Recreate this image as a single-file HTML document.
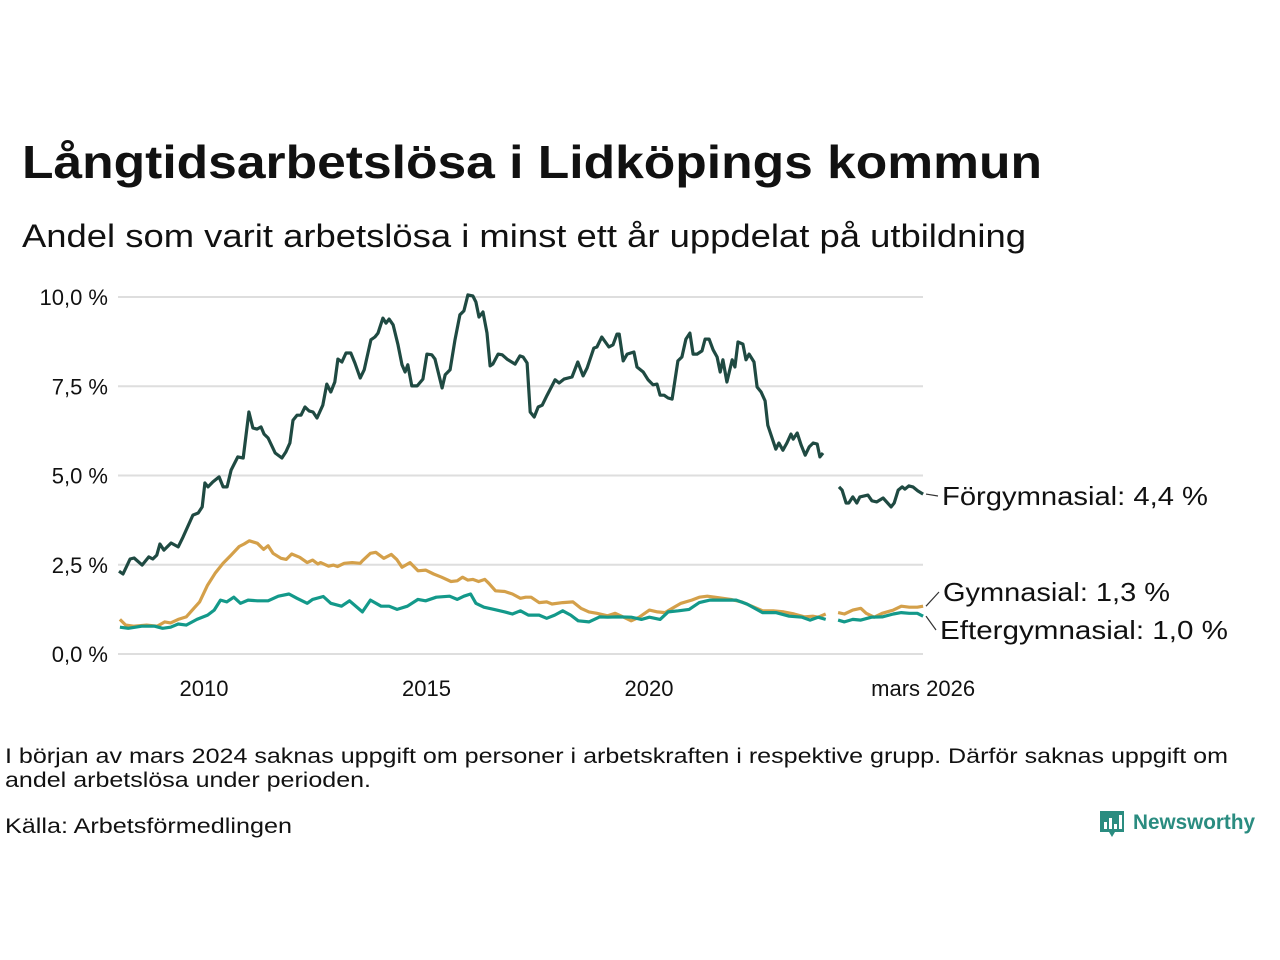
<!DOCTYPE html>
<html><head><meta charset="utf-8"><style>
html,body{margin:0;padding:0;background:#fff;}
svg{display:block;font-family:"Liberation Sans",sans-serif;}
</style></head><body>
<svg id="chart" width="1280" height="960" viewBox="0 0 1280 960">
<text x="22" y="178" font-size="46" font-weight="bold" fill="#111" textLength="1020" lengthAdjust="spacingAndGlyphs">Långtidsarbetslösa i Lidköpings kommun</text>
<text x="22" y="247" font-size="32" fill="#111" textLength="1004" lengthAdjust="spacingAndGlyphs">Andel som varit arbetslösa i minst ett år uppdelat på utbildning</text>
<g id="grid"></g>
<g id="yticks"></g>
<g id="xticks"></g>
<g id="series"></g>
<g id="labels"></g>
<text x="5" y="763" font-size="21" fill="#111" textLength="1223" lengthAdjust="spacingAndGlyphs">I början av mars 2024 saknas uppgift om personer i arbetskraften i respektive grupp. Därför saknas uppgift om</text>
<text x="5" y="787" font-size="21" fill="#111" textLength="366" lengthAdjust="spacingAndGlyphs">andel arbetslösa under perioden.</text>
<text x="5" y="833" font-size="21" fill="#111" textLength="287" lengthAdjust="spacingAndGlyphs">Källa: Arbetsförmedlingen</text>
<g>
<path d="M1100 811 h24 v21 h-9 l-3 5 l-3 -5 h-9 z" fill="#2a8c80"/>
<rect x="1104" y="822" width="3" height="7" fill="#fff"/><rect x="1109" y="818" width="3" height="11" fill="#fff"/><rect x="1114" y="824" width="3" height="5" fill="#fff"/><rect x="1119" y="815" width="3" height="14" fill="#fff"/>
<text x="1133" y="829" font-size="21" font-weight="bold" fill="#2a8c80" textLength="122" lengthAdjust="spacingAndGlyphs">Newsworthy</text>
</g>
</svg>
<script>
const yTicks=[0,2.5,5,7.5,10];
const yTickLabels=["0,0 %","2,5 %","5,0 %","7,5 %","10,0 %"];
const xTicks=[2010,2015,2020,2026.16];
const xTickLabels=["2010","2015","2020","mars 2026"];
const seriesNames=["Förgymnasial","Gymnasial","Eftergymnasial"];
const lastLabels=["Förgymnasial: 4,4 %","Gymnasial: 1,3 %","Eftergymnasial: 1,0 %"];
const darkDates=[2008.09,2008.18,2008.34,2008.43,2008.61,2008.76,2008.85,2008.94,2009.01,2009.10,2009.26,2009.42,2009.53,2009.75,2009.87,2009.96,2010.02,2010.09,2010.20,2010.34,2010.43,2010.52,2010.61,2010.76,2010.88,2011.01,2011.10,2011.19,2011.28,2011.35,2011.44,2011.60,2011.75,2011.84,2011.93,2012.00,2012.09,2012.18,2012.27,2012.36,2012.45,2012.54,2012.67,2012.76,2012.85,2012.94,2013.01,2013.10,2013.19,2013.30,2013.39,2013.51,2013.60,2013.75,2013.84,2013.91,2014.02,2014.09,2014.16,2014.25,2014.36,2014.45,2014.52,2014.58,2014.67,2014.79,2014.92,2015.01,2015.12,2015.19,2015.35,2015.42,2015.53,2015.64,2015.75,2015.84,2015.93,2016.04,2016.11,2016.18,2016.27,2016.36,2016.43,2016.49,2016.61,2016.70,2016.81,2016.99,2017.10,2017.17,2017.26,2017.33,2017.42,2017.51,2017.60,2017.71,2017.89,2017.98,2018.09,2018.27,2018.40,2018.52,2018.61,2018.76,2018.83,2018.94,2019.10,2019.19,2019.28,2019.33,2019.42,2019.51,2019.66,2019.73,2019.87,2019.98,2020.09,2020.18,2020.25,2020.34,2020.43,2020.52,2020.65,2020.74,2020.83,2020.92,2020.99,2021.08,2021.19,2021.26,2021.35,2021.44,2021.53,2021.60,2021.66,2021.75,2021.87,2021.93,2022.00,2022.11,2022.18,2022.25,2022.36,2022.43,2022.52,2022.61,2022.67,2022.85,2022.92,2023.01,2023.10,2023.19,2023.24,2023.33,2023.42,2023.51,2023.60,2023.69,2023.78,2023.84,2023.91,2024.0,2024.27,2024.34,2024.43,2024.49,2024.58,2024.67,2024.74,2024.92,2025.01,2025.12,2025.26,2025.44,2025.51,2025.60,2025.69,2025.75,2025.84,2025.93,2026.04,2026.16];
const darkValues=[2.32,2.24,2.66,2.69,2.49,2.72,2.66,2.77,3.08,2.91,3.11,3.00,3.28,3.89,3.95,4.12,4.79,4.68,4.82,4.96,4.68,4.68,5.15,5.52,5.49,6.78,6.33,6.30,6.36,6.16,6.05,5.63,5.49,5.66,5.91,6.55,6.69,6.69,6.92,6.81,6.78,6.61,6.97,7.56,7.34,7.62,8.26,8.18,8.43,8.43,8.15,7.73,7.96,8.80,8.88,8.99,9.41,9.27,9.38,9.22,8.66,8.10,7.90,8.10,7.51,7.51,7.70,8.40,8.38,8.26,7.45,7.82,7.96,8.80,9.50,9.61,10.06,10.03,9.86,9.44,9.58,8.99,8.07,8.12,8.40,8.38,8.26,8.12,8.35,8.32,8.15,6.78,6.64,6.92,6.97,7.25,7.68,7.59,7.70,7.76,8.18,7.79,8.01,8.57,8.60,8.88,8.60,8.66,8.96,8.96,8.21,8.40,8.46,8.04,7.90,7.68,7.54,7.56,7.25,7.25,7.17,7.14,8.21,8.32,8.82,8.99,8.40,8.40,8.49,8.82,8.82,8.52,8.32,7.90,8.24,7.62,8.24,8.04,8.74,8.68,8.24,8.40,8.18,7.48,7.34,7.09,6.41,5.74,5.91,5.71,5.91,6.16,6.02,6.19,5.85,5.57,5.80,5.91,5.88,5.52,5.63,null,4.68,4.59,4.23,4.23,4.40,4.23,4.40,4.45,4.29,4.26,4.37,4.12,4.23,4.59,4.68,4.62,4.71,4.68,4.57,4.48];
const goldDates=[2008.11,2008.24,2008.42,2008.71,2008.95,2009.12,2009.25,2009.42,2009.60,2009.78,2009.90,2010.08,2010.25,2010.43,2010.61,2010.79,2010.90,2011.02,2011.20,2011.34,2011.44,2011.55,2011.73,2011.85,2011.97,2012.15,2012.32,2012.44,2012.56,2012.62,2012.80,2012.91,2013.00,2013.15,2013.33,2013.51,2013.56,2013.74,2013.86,2014.04,2014.21,2014.33,2014.45,2014.63,2014.81,2014.98,2015.16,2015.34,2015.55,2015.69,2015.81,2015.93,2016.04,2016.17,2016.31,2016.40,2016.55,2016.76,2016.93,2017.11,2017.23,2017.35,2017.53,2017.70,2017.82,2018.06,2018.29,2018.47,2018.65,2018.83,2019.07,2019.24,2019.42,2019.60,2019.78,2020.01,2020.19,2020.36,2020.48,2020.72,2020.96,2021.13,2021.31,2021.48,2021.66,2021.84,2022.08,2022.31,2022.55,2022.79,2023.03,2023.26,2023.50,2023.68,2023.80,2023.97,2024.1,2024.25,2024.39,2024.58,2024.76,2024.88,2025.06,2025.24,2025.49,2025.67,2025.85,2026.03,2026.16];
const goldValues=[0.97,0.81,0.78,0.81,0.78,0.90,0.87,0.97,1.04,1.29,1.46,1.93,2.26,2.54,2.77,3.01,3.08,3.17,3.10,2.93,3.03,2.82,2.68,2.65,2.80,2.71,2.56,2.63,2.52,2.56,2.46,2.49,2.45,2.54,2.56,2.54,2.61,2.82,2.85,2.68,2.79,2.65,2.43,2.56,2.33,2.35,2.24,2.15,2.03,2.05,2.15,2.07,2.09,2.03,2.09,1.98,1.77,1.75,1.68,1.56,1.59,1.59,1.44,1.46,1.40,1.44,1.46,1.28,1.18,1.14,1.07,1.14,1.04,0.93,1.03,1.23,1.18,1.16,1.25,1.42,1.51,1.59,1.62,1.59,1.56,1.53,1.46,1.34,1.21,1.21,1.18,1.12,1.04,1.06,1.03,1.12,null,1.16,1.12,1.23,1.28,1.14,1.03,1.14,1.23,1.34,1.31,1.31,1.34];
const tealDates=[2008.11,2008.30,2008.60,2008.89,2009.07,2009.25,2009.42,2009.60,2009.84,2010.08,2010.23,2010.37,2010.51,2010.67,2010.82,2010.99,2011.20,2011.44,2011.67,2011.91,2012.09,2012.32,2012.44,2012.68,2012.85,2013.09,2013.27,2013.56,2013.74,2013.98,2014.16,2014.34,2014.57,2014.81,2014.98,2015.22,2015.52,2015.69,2015.84,2015.99,2016.11,2016.29,2016.52,2016.76,2016.93,2017.11,2017.29,2017.53,2017.70,2017.88,2018.06,2018.24,2018.41,2018.65,2018.89,2019.07,2019.30,2019.60,2019.83,2020.01,2020.25,2020.43,2020.66,2020.90,2021.13,2021.37,2021.66,2021.96,2022.20,2022.55,2022.85,2023.15,2023.44,2023.62,2023.80,2023.97,2024.1,2024.25,2024.39,2024.58,2024.76,2025.00,2025.24,2025.49,2025.67,2025.85,2026.03,2026.16];
const tealValues=[0.75,0.72,0.78,0.78,0.72,0.75,0.84,0.81,0.97,1.09,1.23,1.51,1.46,1.59,1.42,1.51,1.49,1.49,1.62,1.68,1.56,1.42,1.53,1.61,1.42,1.34,1.49,1.18,1.51,1.34,1.34,1.25,1.34,1.53,1.49,1.59,1.62,1.53,1.62,1.68,1.42,1.31,1.25,1.18,1.12,1.21,1.09,1.09,1.00,1.09,1.21,1.09,0.93,0.90,1.04,1.03,1.04,1.03,0.97,1.03,0.97,1.18,1.21,1.25,1.44,1.51,1.51,1.51,1.40,1.16,1.16,1.06,1.03,0.95,1.03,0.97,null,0.95,0.90,0.97,0.95,1.03,1.04,1.12,1.16,1.14,1.14,1.06];

const NS="http://www.w3.org/2000/svg";
const X0=118,X1=923;
function xs(y){return 204+(y-2010)*44.5;}
function ys(v){return 654-v*35.7;}
function mk(tag,attrs,parent){const e=document.createElementNS(NS,tag);for(const k in attrs)e.setAttribute(k,attrs[k]);parent.appendChild(e);return e;}
const grid=document.getElementById('grid'),yt=document.getElementById('yticks'),xt=document.getElementById('xticks'),sg=document.getElementById('series'),lg=document.getElementById('labels');
yTicks.forEach((v,i)=>{
  const l=mk('line',{x1:X0,x2:X1,y1:ys(v),y2:ys(v),stroke:'#dedede','stroke-width':2},grid);
  
  
  const t=mk('text',{x:108,y:ys(v)+8,'font-size':22,'text-anchor':'end',fill:'#111'},yt);
  t.textContent=yTickLabels[i];
  
  
});
xTicks.forEach((v,i)=>{
  const t=mk('text',{x:xs(v),y:696,'font-size':22,'text-anchor':'middle',fill:'#111'},xt);
  t.textContent=xTickLabels[i];
  
  
});
function path(dates,vals){let d='',pen=false;for(let i=0;i<dates.length;i++){if(vals[i]==null){pen=false;continue;}d+=(pen?'L':'M')+xs(dates[i]).toFixed(1)+' '+ys(vals[i]).toFixed(1);pen=true;}return d;}
const defs=[[goldDates,goldValues,'#d4a04a','line-gymnasial'],[tealDates,tealValues,'#13998a','line-eftergymnasial'],[darkDates,darkValues,'#1f4a42','line-forgymnasial']];
defs.forEach(s=>{
  const p=mk('path',{d:path(s[0],s[1]),fill:'none',stroke:s[2],'stroke-width':3.2,'stroke-linejoin':'round'},sg);
  
  
});
const lastVals=[darkValues[darkValues.length-1],goldValues[goldValues.length-1],tealValues[tealValues.length-1]];
const labelY=[496,592,630];
const labelLen=[266,227,288];
const labelX=[942,943,940];
lastVals.forEach((v,i)=>{
  const ln=mk('line',{x1:X1+3,y1:ys(v),x2:labelX[i]-4,y2:labelY[i],stroke:'#333','stroke-width':1.2},lg);
  
  
  const t=mk('text',{x:labelX[i],y:labelY[i]+9,'font-size':26,fill:'#111',textLength:labelLen[i],lengthAdjust:'spacingAndGlyphs'},lg);
  t.textContent=lastLabels[i];
  
  
});
</script>
</body></html>
